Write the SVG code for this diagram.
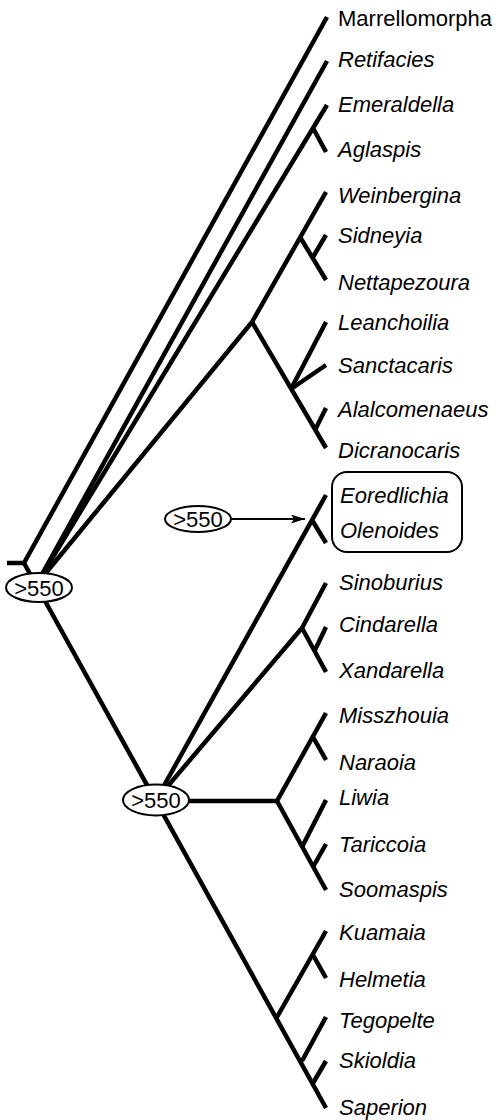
<svg xmlns="http://www.w3.org/2000/svg" width="498" height="1120" viewBox="0 0 498 1120">
<style>
.br{fill:none;stroke:#000;stroke-width:4.5;stroke-linecap:butt;stroke-linejoin:miter}
.t{font-family:"Liberation Sans",Arial,sans-serif;font-size:22px;fill:#000}
.i{font-style:italic}
.ov{fill:#fff;stroke:#000;stroke-width:2}
.ot{font-family:"Liberation Sans",Arial,sans-serif;font-size:22px;fill:#000;text-anchor:middle}
</style>
<defs>
<marker id="ah" viewBox="0 0 14 9" refX="14" refY="4.5" markerWidth="14" markerHeight="9" markerUnits="userSpaceOnUse" orient="auto">
<path d="M0,0 L14,4.5 L0,9 L3,4.5 Z" fill="#000"/>
</marker>
</defs>
<rect width="498" height="1120" fill="#fff"/>
<g id="connectors">
<path class="br" d="M7,563 H24"/>
<path class="br" d="M24,563 L327,17"/>
<path class="br" d="M24,563 L326,1108"/>
<path class="br" d="M36,585 L327,61"/>
<path class="br" d="M36,585 L327,105"/>
<path class="br" d="M313,128 L326,152"/>
<path class="br" d="M36,585 L252,322"/>
<path class="br" d="M252,322 L326,192"/>
<path class="br" d="M300,237 L326,280"/>
<path class="br" d="M313,257 L326,235"/>
<path class="br" d="M252,322 L326,448"/>
<path class="br" d="M291,389 L326,322"/>
<path class="br" d="M291,389 L326,365"/>
<path class="br" d="M315,430 L326,408"/>
<path class="br" d="M156,800 L326,495"/>
<path class="br" d="M312,520 L326,543"/>
<path class="br" d="M156,800 L302,628"/>
<path class="br" d="M302,628 L326,583"/>
<path class="br" d="M302,628 L326,672"/>
<path class="br" d="M315,650 L326,627"/>
<path class="br" d="M156,801 H277"/>
<path class="br" d="M277,801 L326,713"/>
<path class="br" d="M313,737 L326,760"/>
<path class="br" d="M277,801 L326,890"/>
<path class="br" d="M302,847 L326,800"/>
<path class="br" d="M313,867 L326,844"/>
<path class="br" d="M277,1017 L326,931"/>
<path class="br" d="M313,955 L326,978"/>
<path class="br" d="M302,1061 L326,1017"/>
<path class="br" d="M313,1083 L326,1061"/>
<path d="M231,519 H305" fill="none" stroke="#000" stroke-width="2" marker-end="url(#ah)"/>
</g>
<g id="node-root-support">
<ellipse class="ov" cx="39" cy="587.5" rx="33" ry="14.5"/>
<text class="ot" x="39" y="595.5">&gt;550</text>
</g>
<g id="node-lower-support">
<ellipse class="ov" cx="156" cy="800" rx="33" ry="15.5"/>
<text class="ot" x="156" y="808">&gt;550</text>
</g>
<g id="node-arrow-support">
<ellipse class="ov" cx="198" cy="519" rx="33" ry="13"/>
<text class="ot" x="198" y="527">&gt;550</text>
</g>
<g id="node-trilobite-box">
<rect x="332" y="472" width="130" height="80" rx="15" ry="15" fill="none" stroke="#000" stroke-width="2"/>
</g>
<g id="node-Marrellomorpha"><text class="t" x="338" y="26">Marrellomorpha</text></g>
<g id="node-Retifacies"><text class="t i" x="338" y="67">Retifacies</text></g>
<g id="node-Emeraldella"><text class="t i" x="338" y="112">Emeraldella</text></g>
<g id="node-Aglaspis"><text class="t i" x="338" y="157">Aglaspis</text></g>
<g id="node-Weinbergina"><text class="t i" x="338" y="203">Weinbergina</text></g>
<g id="node-Sidneyia"><text class="t i" x="338" y="243">Sidneyia</text></g>
<g id="node-Nettapezoura"><text class="t i" x="338" y="290">Nettapezoura</text></g>
<g id="node-Leanchoilia"><text class="t i" x="338" y="330">Leanchoilia</text></g>
<g id="node-Sanctacaris"><text class="t i" x="338" y="373">Sanctacaris</text></g>
<g id="node-Alalcomenaeus"><text class="t i" x="338" y="417">Alalcomenaeus</text></g>
<g id="node-Dicranocaris"><text class="t i" x="338" y="458">Dicranocaris</text></g>
<g id="node-Eoredlichia"><text class="t i" x="340" y="503">Eoredlichia</text></g>
<g id="node-Olenoides"><text class="t i" x="340" y="538">Olenoides</text></g>
<g id="node-Sinoburius"><text class="t i" x="339" y="590">Sinoburius</text></g>
<g id="node-Cindarella"><text class="t i" x="339" y="632">Cindarella</text></g>
<g id="node-Xandarella"><text class="t i" x="339" y="678">Xandarella</text></g>
<g id="node-Misszhouia"><text class="t i" x="339" y="723">Misszhouia</text></g>
<g id="node-Naraoia"><text class="t i" x="339" y="770">Naraoia</text></g>
<g id="node-Liwia"><text class="t i" x="339" y="805">Liwia</text></g>
<g id="node-Tariccoia"><text class="t i" x="339" y="852">Tariccoia</text></g>
<g id="node-Soomaspis"><text class="t i" x="339" y="897">Soomaspis</text></g>
<g id="node-Kuamaia"><text class="t i" x="339" y="940">Kuamaia</text></g>
<g id="node-Helmetia"><text class="t i" x="339" y="987">Helmetia</text></g>
<g id="node-Tegopelte"><text class="t i" x="339" y="1028">Tegopelte</text></g>
<g id="node-Skioldia"><text class="t i" x="339" y="1068">Skioldia</text></g>
<g id="node-Saperion"><text class="t i" x="339" y="1115">Saperion</text></g>
</svg>
